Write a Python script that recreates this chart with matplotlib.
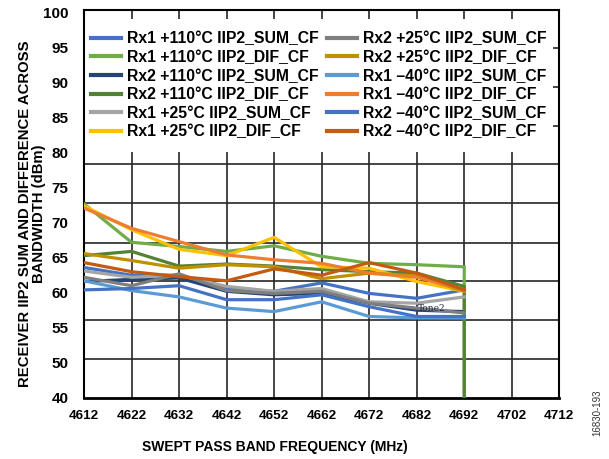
import numpy as np
import matplotlib
matplotlib.use("Agg")
import matplotlib.pyplot as plt
from matplotlib.patches import Rectangle

plt.rcParams["font.family"] = ["Liberation Sans", "DejaVu Sans"]
plt.rcParams["font.weight"] = "bold"

# swept frequency (MHz)
freq = [4612, 4622, 4632, 4642, 4652, 4662, 4672, 4682, 4692]
freq_drop = freq + [4692]

# IIP2 (dBm), read against the printed tick labels
rx1_110_sum = [63.6, 62.5, 62.5, 60.6, 60.2, 61.4, 59.9, 59.2, 60.4]
rx1_110_dif = [72.7, 67.2, 66.6, 65.9, 66.7, 65.2, 64.2, 64.0, 63.7, 40.0]
rx2_110_sum = [61.6, 61.9, 62.1, 60.2, 59.7, 59.9, 58.5, 57.5, 57.3]
rx2_110_dif = [65.3, 65.9, 63.8, 64.1, 63.8, 63.3, 63.0, 62.8, 60.9, 40.0]
rx1_25_sum = [63.1, 62.2, 62.5, 60.9, 60.2, 60.6, 58.7, 58.5, 59.4]
rx1_25_dif = [72.4, 69.0, 66.2, 65.3, 67.9, 63.7, 63.5, 61.6, 60.2]
rx2_25_sum = [62.2, 61.0, 62.7, 60.3, 59.9, 60.2, 58.5, 57.8, 57.1]
rx2_25_dif = [65.6, 64.6, 63.5, 64.0, 63.7, 62.0, 62.8, 62.4, 60.2]
rx1_m40_sum = [61.7, 60.3, 59.4, 57.8, 57.3, 58.7, 56.6, 56.4, 56.4]
rx1_m40_dif = [72.1, 69.2, 67.3, 65.4, 64.7, 64.2, 62.8, 62.2, 60.4]
rx2_m40_sum = [60.4, 60.6, 61.0, 59.0, 59.0, 59.7, 58.0, 56.6, 56.6]
rx2_m40_dif = [64.3, 63.0, 62.3, 61.7, 63.4, 62.5, 64.3, 62.8, 60.4]

series = [
    ("Rx1 +110°C IIP2_SUM_CF", freq, rx1_110_sum, "#4472C4"),
    ("Rx1 +110°C IIP2_DIF_CF", freq_drop, rx1_110_dif, "#70AD47"),
    ("Rx2 +110°C IIP2_SUM_CF", freq, rx2_110_sum, "#264478"),
    ("Rx2 +110°C IIP2_DIF_CF", freq_drop, rx2_110_dif, "#548235"),
    ("Rx1 +25°C IIP2_SUM_CF", freq, rx1_25_sum, "#A5A5A5"),
    ("Rx1 +25°C IIP2_DIF_CF", freq, rx1_25_dif, "#FFC000"),
    ("Rx2 +25°C IIP2_SUM_CF", freq, rx2_25_sum, "#7F7F7F"),
    ("Rx2 +25°C IIP2_DIF_CF", freq, rx2_25_dif, "#BF9000"),
    ("Rx1 \u201340°C IIP2_SUM_CF", freq, rx1_m40_sum, "#5B9BD5"),
    ("Rx1 \u201340°C IIP2_DIF_CF", freq, rx1_m40_dif, "#ED7D31"),
    ("Rx2 \u201340°C IIP2_SUM_CF", freq, rx2_m40_sum, "#4472C4"),
    ("Rx2 \u201340°C IIP2_DIF_CF", freq, rx2_m40_dif, "#C55A11"),
]

y_ticks = [40, 50, 55, 60, 65, 70, 75, 80, 85, 90, 95, 100]
x_ticks = list(range(4612, 4713, 10))


# printed axis squeezes 40..50 into half a step
def fwd(v):
    v = np.asarray(v, dtype=float)
    return np.where(v >= 50, v, 50 - (50 - v) / 2)


def inv(u):
    u = np.asarray(u, dtype=float)
    return np.where(u >= 50, u, 50 - 2 * (50 - u))


fig = plt.figure(figsize=(6.09, 4.59), dpi=100)
ax = fig.add_axes([0.1379, 0.1336, 0.7805, 0.8447])
ax.set_yscale("function", functions=(fwd, inv))
ax.set_xlim(4612, 4712)
ax.set_ylim(40, 100.4)

# chart grid (does not line up with the printed labels)
for gy in [50.5, 56.07, 61.69, 67.16, 72.79, 78.36, 83.87, 89.44, 95.01]:
    ax.axhline(gy, color="#262626", lw=1.2, zorder=0.5)
for gx in x_ticks[1:-1]:
    ax.axvline(gx, color="#262626", lw=1.2, zorder=0.5)

# white legend panel over the upper part
ax.add_patch(Rectangle((0, 0.634), 0.987, 0.343, transform=ax.transAxes,
                       facecolor="white", edgecolor="none", zorder=1))

for name, xs, ys, col in series:
    ax.plot(xs, ys, color=col, lw=2.3, label=name, zorder=3,
            solid_joinstyle="miter")

ax.text(4682.3, 57.7, "Tone2", family="DejaVu Serif", fontweight="normal",
        fontsize=6.5, color="#1F2A44", va="center", ha="left", zorder=4)

ax.set_xticks(x_ticks)
ax.set_yticks(y_ticks)
ax.set_yticklabels([str(t) for t in y_ticks])
ax.yaxis.set_minor_locator(matplotlib.ticker.NullLocator())
ax.tick_params(axis="both", length=0)
ax.tick_params(axis="x", pad=9, labelsize=9.7)
ax.tick_params(axis="y", pad=11, labelsize=11)
for s in ax.spines.values():
    s.set_color("black")
    s.set_linewidth(1.5)
ax.spines["bottom"].set_linewidth(2)

leg = ax.legend(ncol=2, loc="upper left", bbox_to_anchor=(0.0015, 0.961),
                frameon=False, fontsize=11.3, handlelength=1.9,
                handletextpad=0.38, columnspacing=0.55, labelspacing=0.23,
                borderaxespad=0, borderpad=0.4)
for h in leg.get_lines():
    h.set_linewidth(3)

fig.text(32 / 609, 1 - 214 / 459,
         "RECEIVER IIP2 SUM AND DIFFERENCE ACROSS\nBANDWIDTH (dBm)",
         rotation=90, ha="center", va="center", multialignment="center",
         fontsize=10.7, fontweight="bold", linespacing=1.05)
fig.text(275 / 609, 1 - 447 / 459, "SWEPT PASS BAND FREQUENCY (MHz)",
         ha="center", va="center", fontsize=10, fontweight="bold")
fig.text(597 / 609, 1 - 413 / 459, "16830-193", rotation=90,
         ha="center", va="center", fontsize=7, fontweight="normal",
         color="#333333")

fig.savefig("out.png", dpi=100)
